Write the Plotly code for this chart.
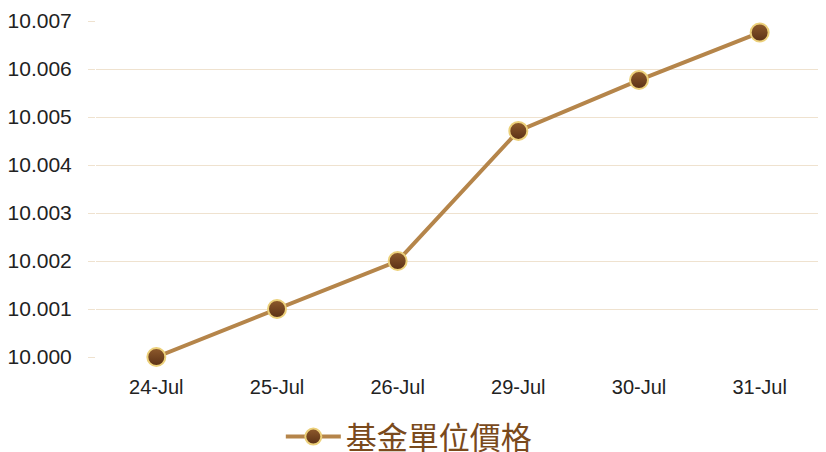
import plotly.graph_objects as go

dates = ["24-Jul", "25-Jul", "26-Jul", "29-Jul", "30-Jul", "31-Jul"]
nav = [10.000, 10.001, 10.002, 10.00471, 10.00577, 10.00676]
series_name = "基金單位價格"
y_ticks = [10.000, 10.001, 10.002, 10.003, 10.004, 10.005, 10.006, 10.007]

fig = go.Figure()
fig.add_trace(go.Scatter(
    x=dates, y=nav, name=series_name, mode="lines+markers",
    line=dict(color="#b5854a", width=4),
    marker=dict(size=18, color="#8e5a2c",
                gradient=dict(type="vertical", color="#5a3015"),
                line=dict(color="#ecd07a", width=2)),
    cliponaxis=False,
    showlegend=True,
))

fig.update_layout(
    width=818, height=444,
    margin=dict(l=88, r=6, t=13, b=95, autoexpand=False),
    paper_bgcolor="white", plot_bgcolor="white",
    font=dict(family="Liberation Sans, Noto Sans CJK TC", size=20, color="#222222"),
    xaxis=dict(type="category", range=[-0.5, 5.5], showgrid=False, showline=False,
               automargin=False, ticks="", ticklabelstandoff=16,
               tickfont=dict(family="Liberation Sans", size=20, color="#222222")),
    yaxis=dict(range=[10.000, 10.007], tickvals=y_ticks,
               ticktext=[f"{v:.3f}" for v in y_ticks],
               showgrid=True, gridcolor="#efe2cf", gridwidth=1,
               zeroline=False, showline=False, automargin=False,
               ticks="outside", ticklen=7, tickcolor="#efe2cf",
               ticklabelstandoff=12,
               tickfont=dict(family="Liberation Sans", size=21, color="#222222")),
    legend=dict(orientation="h", x=0.49, xanchor="center", xref="container",
                y=-0.238, yanchor="middle", yref="paper",
                font=dict(family="Noto Sans CJK TC", size=31, color="#7a4a1c"),
                itemwidth=55),
)

fig.write_html("out.html")
